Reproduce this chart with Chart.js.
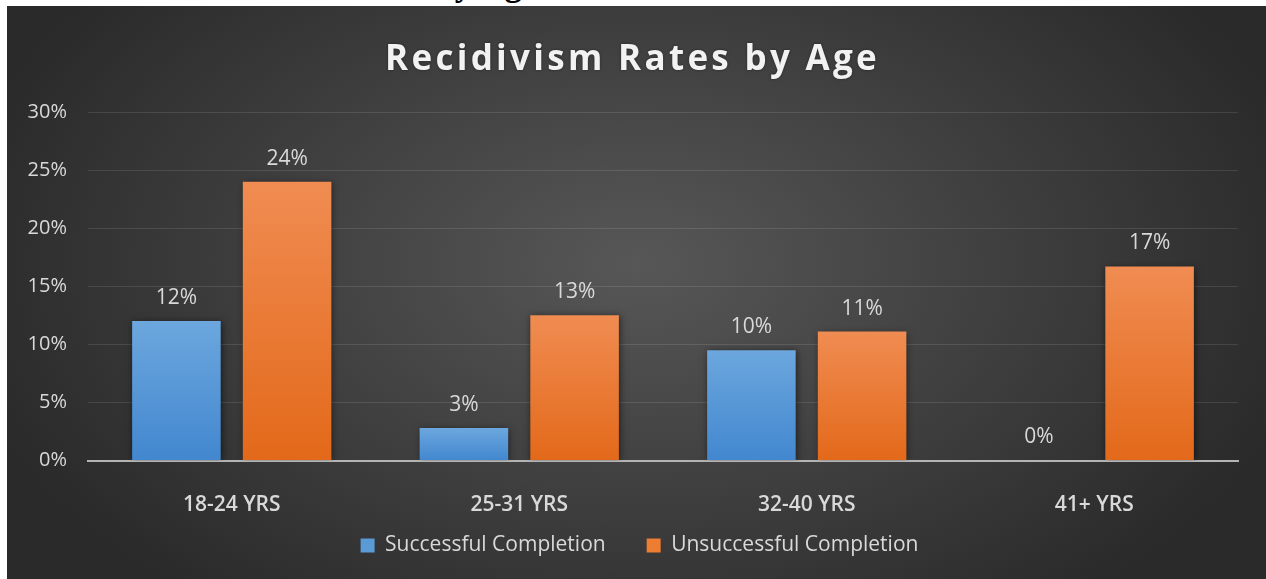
<!DOCTYPE html>
<html>
<head>
<meta charset="utf-8">
<script src="https://cdn.jsdelivr.net/npm/chart.js@4"></script>
<style>
  body { margin: 0; background: #fff; overflow: hidden; width: 1266px; height: 579px; position: relative; }
  #docHeading {
    position: absolute; top: -36px; left: 169px; z-index: 0;
    font: bold 35px "Liberation Serif", serif; color: #000; white-space: nowrap;
  }
  #panel {
    position: absolute; left: 7px; top: 6px; width: 1259px; height: 573px; z-index: 1;
    background: radial-gradient(ellipse 55% 75% at 50% 45%, #575757 0%, #2a2a2a 100%);
  }
</style>
</head>
<body>
<div id="docHeading">Recidivism Rates by Age</div>
<div id="panel"><canvas id="recidivismChart"></canvas></div>
<script>
const ageGroups = ['18-24 YRS', '25-31 YRS', '32-40 YRS', '41+ YRS'];
const successfulRates = [12, 2.8, 9.5, 0];
const unsuccessfulRates = [24, 12.5, 11.1, 16.7];
const yTicks = [0, 5, 10, 15, 20, 25, 30];

const textGray = '#d9d9d9';
const blueSolid = '#5b9bd5';
const orangeSolid = '#ed7d31';

// vertical gradient for each bar, from its top down to the zero line
function barGradient(top, bottom) {
  return function(context) {
    if (context.type !== 'data') return bottom;
    const chart = context.chart;
    const y = chart.scales.y;
    if (!y) return bottom;
    const yTop = y.getPixelForValue(context.parsed.y);
    const yZero = y.getPixelForValue(0);
    if (!isFinite(yTop) || !isFinite(yZero) || yZero - yTop < 1) return bottom;
    const g = chart.ctx.createLinearGradient(0, yTop, 0, yZero);
    g.addColorStop(0, top);
    g.addColorStop(1, bottom);
    return g;
  };
}

// soft shadow behind the bars
const barShadow = {
  id: 'barShadow',
  beforeDatasetsDraw(chart) {
    const ctx = chart.ctx;
    ctx.save();
    ctx.shadowColor = 'rgba(0,0,0,0.55)';
    ctx.shadowBlur = 7;
    ctx.shadowOffsetX = 1;
    ctx.shadowOffsetY = 1;
  },
  afterDatasetsDraw(chart) {
    chart.ctx.restore();
  }
};

// percentage labels above each bar
const valueLabels = {
  id: 'valueLabels',
  afterDatasetsDraw(chart) {
    const ctx = chart.ctx;
    ctx.save();
    ctx.font = '21px "Open Sans"';
    ctx.fillStyle = textGray;
    ctx.textAlign = 'center';
    ctx.textBaseline = 'middle';
    chart.data.datasets.forEach((ds, i) => {
      chart.getDatasetMeta(i).data.forEach((bar, j) => {
        ctx.fillText(Math.round(ds.data[j]) + '%', bar.x, bar.y - 23);
      });
    });
    ctx.restore();
  }
};

// spaced-out title like the original
const spacedTitle = {
  id: 'spacedTitle',
  afterDraw(chart) {
    const ctx = chart.ctx;
    ctx.save();
    ctx.font = 'bold 35px "Open Sans"';
    ctx.letterSpacing = '3.3px';
    ctx.fillStyle = '#f2f2f2';
    ctx.textAlign = 'center';
    ctx.textBaseline = 'middle';
    ctx.shadowColor = 'rgba(0,0,0,0.4)';
    ctx.shadowBlur = 3;
    ctx.fillText('Recidivism Rates by Age', chart.width / 2 - 4, 54);
    ctx.restore();
  }
};

// pull the legend up closer to the axis labels, nudge it right,
// and give the x labels room to draw below the squeezed axis box
const legendPlace = {
  id: 'legendPlace',
  afterLayout(chart) {
    const lg = chart.legend;
    const dy = lg.top - 488;
    lg.top -= dy;
    lg.bottom -= dy;
    lg.left += 17;
    lg.right += 17;
    const x = chart.scales.x;
    x.bottom = x.top + 75;
    x.height = 75;
  }
};

new Chart(document.getElementById('recidivismChart'), {
  type: 'bar',
  data: {
    labels: ageGroups,
    datasets: [{
      label: 'Successful Completion',
      data: successfulRates,
      backgroundColor: barGradient('#6ca7de', '#4287cf'),
      categoryPercentage: 0.77,
      barPercentage: 0.8
    }, {
      label: 'Unsuccessful Completion',
      data: unsuccessfulRates,
      backgroundColor: barGradient('#f08c52', '#e3691a'),
      categoryPercentage: 0.77,
      barPercentage: 0.8
    }]
  },
  options: {
    responsive: true,
    maintainAspectRatio: false,
    animation: false,
    layout: { padding: { top: 106, right: 28, left: 0, bottom: 0 } },
    scales: {
      y: {
        min: 0,
        max: 30,
        afterBuildTicks(scale) {
          scale.ticks = yTicks.map(v => ({ value: v }));
        },
        afterFit(scale) { scale.width = 81; },
        ticks: {
          color: textGray,
          padding: 21,
          font: { family: 'Open Sans', size: 20 },
          callback: v => v + '%'
        },
        grid: { color: 'rgba(255,255,255,0.11)', lineWidth: 1, drawTicks: false },
        border: { display: false }
      },
      x: {
        afterFit(scale) { scale.height = 46.5; },
        ticks: {
          color: textGray,
          padding: 32,
          font: { family: 'Open Sans', size: 21, weight: '600' }
        },
        grid: { display: false, drawTicks: false },
        border: { display: true, color: '#b4b4b4', width: 2 }
      }
    },
    plugins: {
      title: { display: false },
      tooltip: { enabled: false },
      legend: {
        position: 'bottom',
        labels: {
          color: textGray,
          boxWidth: 14,
          boxHeight: 14,
          padding: 41,
          font: { family: 'Open Sans', size: 21 },
          generateLabels(chart) {
            const items = Chart.defaults.plugins.legend.labels.generateLabels(chart);
            const solids = [blueSolid, orangeSolid];
            items.forEach((it, i) => { it.fillStyle = solids[i]; it.strokeStyle = solids[i]; it.lineWidth = 0; });
            return items;
          }
        }
      }
    }
  },
  plugins: [barShadow, valueLabels, spacedTitle, legendPlace]
});
</script>
</body>
</html>
